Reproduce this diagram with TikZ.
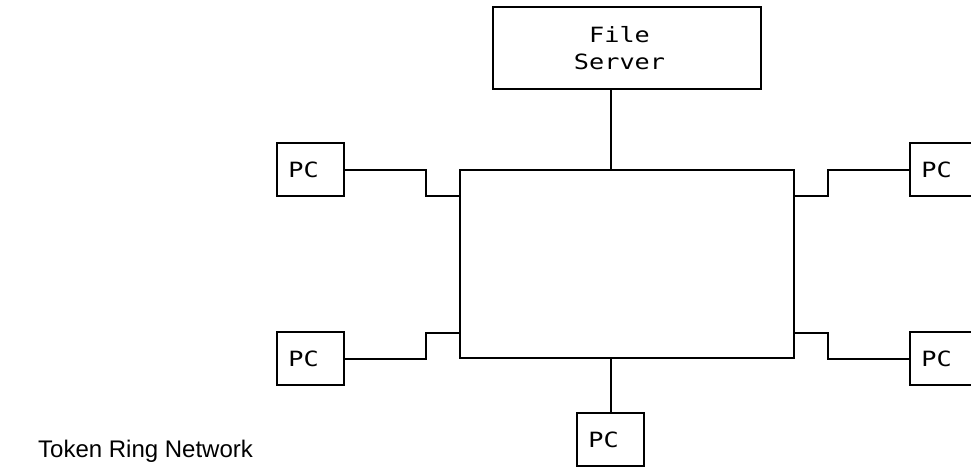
\documentclass[tikz,border=0pt]{standalone}
\usepackage{fontspec}
\setmainfont{Liberation Sans}
\newfontfamily\termfont[FakeStretch=1.2]{DejaVu Sans Mono}
\begin{document}
\begin{tikzpicture}[x=1pt,y=-1pt,
  wire/.style={line width=2pt, line join=miter},
  box/.style={draw, line width=2pt, inner sep=0pt, font=\termfont\fontsize{21}{27}\selectfont, align=center},
  pcbox/.style={box, minimum width=67pt, minimum height=53pt},
]
\clip (0,0) rectangle (971,468);
\fill[white] (0,0) rectangle (971,468);

% ring hub and server
\node[box, minimum width=334pt, minimum height=188pt] (ring) at (627,264) {};
\node[box, minimum width=268pt, minimum height=82pt] (server) at (627,48) {\hspace*{-15pt}File\\\hspace*{-15pt}Server};

% workstations
\node[pcbox] (pcTL) at (310.5,169.5) {\hspace*{-14pt}PC};
\node[pcbox] (pcBL) at (310.5,358.5) {\hspace*{-14pt}PC};
\node[pcbox] (pcTR) at (943.5,169.5) {\hspace*{-14pt}PC};
\node[pcbox] (pcBR) at (943.5,358.5) {\hspace*{-14pt}PC};
\node[pcbox] (pcB)  at (610.5,439.5) {\hspace*{-14pt}PC};

% stepped links to the hub
\draw[wire] (pcTL.east) -| ([xshift=-33pt,yshift=-27pt]ring.north west) -- ([yshift=-27pt]ring.north west);
\draw[wire] (pcBL.east) -| ([xshift=-33pt,yshift=26pt]ring.south west) -- ([yshift=26pt]ring.south west);
\draw[wire] ([yshift=-27pt]ring.north east) -- ++(33,0) |- (pcTR.west);
\draw[wire] ([yshift=26pt]ring.south east) -- ++(33,0) |- (pcBR.west);
\draw[wire] (pcB.north) -- (pcB.north |- ring.south);
\draw[wire] (server.south -| pcB.north) -- (ring.north -| pcB.north);

% caption
\node[font=\fontsize{24}{28}\selectfont, anchor=base west, inner sep=0pt] (caption) at (38,457) {Token Ring Network};
\end{tikzpicture}
\end{document}
